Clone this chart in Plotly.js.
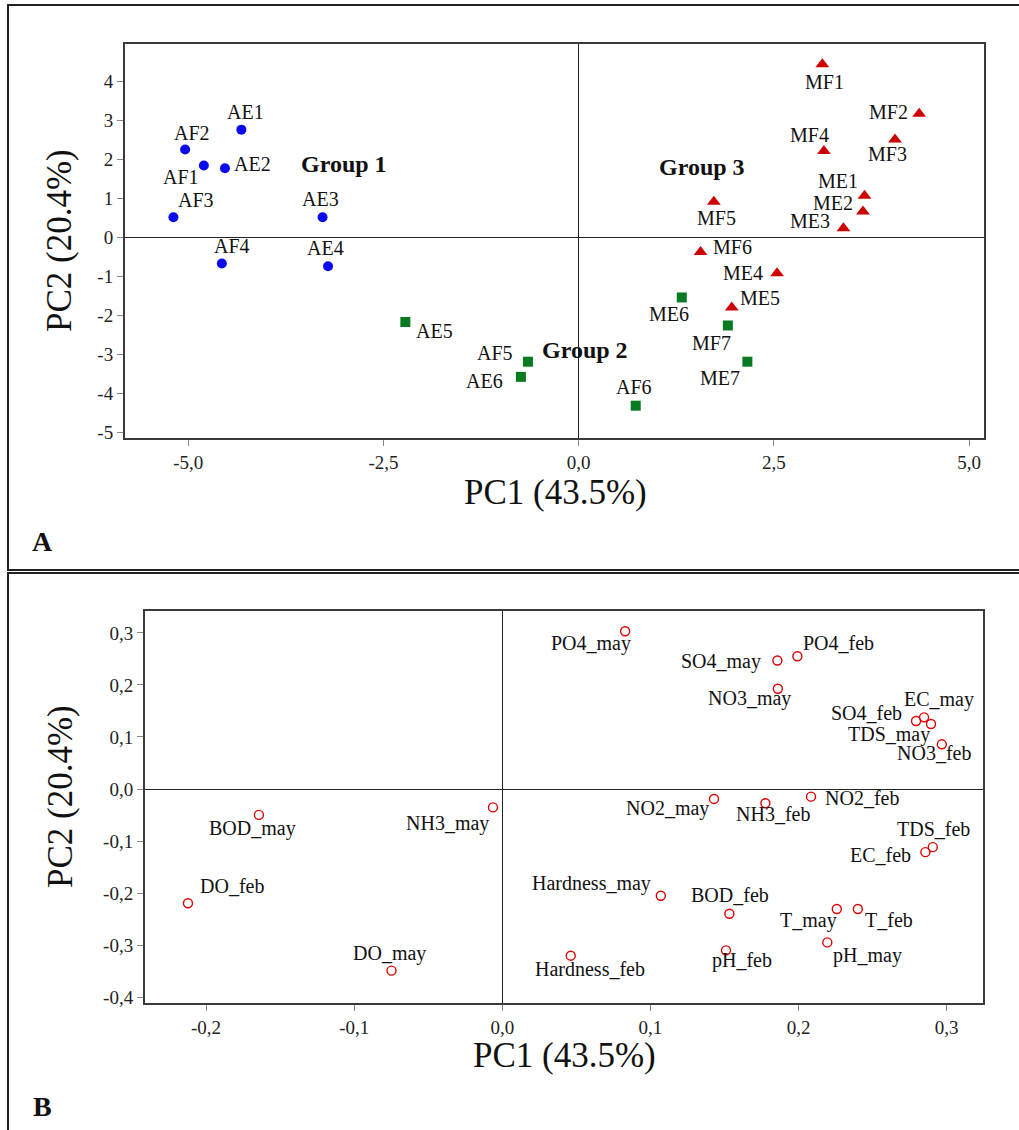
<!DOCTYPE html>
<html>
<head>
<meta charset="utf-8">
<script src="https://cdn.plot.ly/plotly-3.0.1.min.js"></script>
<style>html,body{margin:0;padding:0;background:#fff;}#chart{width:1019px;height:1130px;}</style>
</head>
<body>
<div id="chart"></div>
<script>
// ---------- Panel A: PCA scores ----------
const group1Names = ['AE1','AF2','AF1','AE2','AF3','AE3','AF4','AE4'];
const group1PC1 = [-4.32,-5.04,-4.80,-4.53,-5.19,-3.28,-4.57,-3.21];
const group1PC2 = [2.77,2.26,1.85,1.78,0.52,0.52,-0.67,-0.74];

const group2Names = ['AE5','AF5','AE6','AF6','ME6','MF7','ME7'];
const group2PC1 = [-2.22,-0.65,-0.74,0.73,1.32,1.91,2.16];
const group2PC2 = [-2.17,-3.19,-3.58,-4.32,-1.54,-2.26,-3.19];

const group3Names = ['MF1','MF2','MF3','MF4','ME1','ME2','ME3','MF5','MF6','ME4','ME5'];
const group3PC1 = [3.12,4.36,4.05,3.14,3.66,3.64,3.39,1.73,1.56,2.54,1.96];
const group3PC2 = [4.45,3.18,2.52,2.22,1.07,0.67,0.24,0.92,-0.37,-0.92,-1.80];

const groupTitles = ['Group 1','Group 2','Group 3'];
const groupTitlePC1 = [-3.00,0.08,1.58];
const groupTitlePC2 = [1.90,-2.90,1.81];

const scoreTickX = [-5,-2.5,0,2.5,5];
const scoreTickXText = ['-5,0','-2,5','0,0','2,5','5,0'];
const scoreTickY = [-5,-4,-3,-2,-1,0,1,2,3,4];
const scoreTickYText = ['-5','-4','-3','-2','-1','0','1','2','3','4'];

// ---------- Panel B: PCA loadings ----------
const varNames = ['PO4_may','SO4_may','PO4_feb','NO3_may','SO4_feb','EC_may','TDS_may','NO3_feb',
  'NO2_may','NH3_feb','NO2_feb','TDS_feb','EC_feb','Hardness_may','BOD_feb','T_may','T_feb',
  'pH_may','pH_feb','Hardness_feb','BOD_may','NH3_may','DO_feb','DO_may'];
const varPC1 = [0.0829,0.1857,0.1992,0.1860,0.2793,0.2847,0.2894,0.2967,
  0.1429,0.1776,0.2084,0.2906,0.2856,0.1070,0.1533,0.2258,0.2400,
  0.2194,0.1510,0.0462,-0.1643,-0.0063,-0.2122,-0.0748];
const varPC2 = [0.303,0.247,0.255,0.1926,0.1306,0.1377,0.1249,0.0859,
  -0.0190,-0.0272,-0.0146,-0.1116,-0.1212,-0.2050,-0.2396,-0.2305,-0.2305,
  -0.2946,-0.3099,-0.3201,-0.0497,-0.0353,-0.2194,-0.3489];

const loadTickX = [-0.2,-0.1,0,0.1,0.2,0.3];
const loadTickXText = ['-0,2','-0,1','0,0','0,1','0,2','0,3'];
const loadTickY = [-0.4,-0.3,-0.2,-0.1,0,0.1,0.2,0.3];
const loadTickYText = ['-0,4','-0,3','-0,2','-0,1','0,0','0,1','0,2','0,3'];

const axisTitleX = 'PC1 (43.5%)';
const axisTitleY = 'PC2 (20.4%)';
const panelLetters = ['A','B'];

// ---------- styling / layout (label offsets in pixels: [dx, dy down]) ----------
const labelOffsetA = {
  AE1:[4,-18], AF2:[7,-17], AF1:[-23,12], AE2:[28,-4], AF3:[23,-17], AE3:[-2,-18], AF4:[10,-18], AE4:[-3,-18],
  AE5:[29,9], AF5:[-33,-9], AE6:[-36,4], AF6:[-2,-19], ME6:[-13,17], MF7:[-16,18], ME7:[-27,16],
  MF1:[2,18], MF2:[-31,-2], MF3:[-7,15], MF4:[-14,-16], ME1:[-27,-15], ME2:[-30,-8], ME3:[-33,-7],
  MF5:[3,16], MF6:[32,-5], ME4:[-34,0], ME5:[28,-10]
};
const labelOffsetB = {
  PO4_may:[-34,12], SO4_may:[-56,1], PO4_feb:[41,-13], NO3_may:[-28,10], SO4_feb:[-50,-8], EC_may:[15,-18],
  TDS_may:[-42,10], NO3_feb:[-8,9], NO2_may:[-46,10], NH3_feb:[8,11], NO2_feb:[51,1], TDS_feb:[1,-18],
  EC_feb:[-45,3], Hardness_may:[-69,-12], BOD_feb:[1,-19], T_may:[-28,11], T_feb:[31,11], pH_may:[40,13],
  pH_feb:[16,10], Hardness_feb:[19,13], BOD_may:[-6,14], NH3_may:[-45,16], DO_feb:[44,-17], DO_may:[-2,-17]
};

const W = 1019, H = 1130;
const px = v => v / W;
const py = v => 1 - v / H;
const SERIF = '"Liberation Serif", "Times New Roman", serif';
const TXT = '#111';

const traces = [
  {x: group1PC1, y: group1PC2, type:'scatter', mode:'markers', xaxis:'x', yaxis:'y',
   marker:{symbol:'circle', size:10, color:'#0a0af0'}, hoverinfo:'text', text:group1Names},
  {x: group2PC1, y: group2PC2, type:'scatter', mode:'markers', xaxis:'x', yaxis:'y',
   marker:{symbol:'square', size:10, color:'#077a22'}, hoverinfo:'text', text:group2Names},
  {x: group3PC1, y: group3PC2, type:'scatter', mode:'markers', xaxis:'x', yaxis:'y',
   marker:{symbol:'triangle-up', size:12, color:'#cc0000'}, hoverinfo:'text', text:group3Names},
  {x: varPC1, y: varPC2, type:'scatter', mode:'markers', xaxis:'x2', yaxis:'y2',
   marker:{symbol:'circle-open', size:9, color:'#dd0000', line:{width:1.4, color:'#dd0000'}},
   hoverinfo:'text', text:varNames}
];

const annotations = [];
function addLabels(names, xs, ys, offs, xr, yr, fs) {
  names.forEach((n, i) => {
    const o = offs[n] || [0, -15];
    annotations.push({x: xs[i], y: ys[i], xref: xr, yref: yr, text: n, showarrow: false,
      xanchor: 'center', yanchor: 'middle', xshift: o[0], yshift: -o[1],
      font: {family: SERIF, size: fs, color: TXT}});
  });
}
addLabels(group1Names, group1PC1, group1PC2, labelOffsetA, 'x', 'y', 20);
addLabels(group2Names, group2PC1, group2PC2, labelOffsetA, 'x', 'y', 20);
addLabels(group3Names, group3PC1, group3PC2, labelOffsetA, 'x', 'y', 20);
addLabels(varNames, varPC1, varPC2, labelOffsetB, 'x2', 'y2', 20);

groupTitles.forEach((t, i) => {
  annotations.push({x: groupTitlePC1[i], y: groupTitlePC2[i], xref:'x', yref:'y', text:'<b>'+t+'</b>',
    showarrow:false, xanchor:'center', yanchor:'middle', font:{family:SERIF, size:24, color:TXT}});
});

// axis titles and panel letters
[[555,493],[564,1055]].forEach(p => annotations.push({x:px(p[0]), y:py(p[1]), xref:'paper', yref:'paper',
  text:axisTitleX, showarrow:false, xanchor:'center', yanchor:'middle', font:{family:SERIF, size:35, color:TXT}}));
[[60,241],[60,797]].forEach(p => annotations.push({x:px(p[0]), y:py(p[1]), xref:'paper', yref:'paper',
  text:axisTitleY, textangle:-90, showarrow:false, xanchor:'center', yanchor:'middle', font:{family:SERIF, size:35, color:TXT}}));
[[42,541],[42,1106]].forEach((p, i) => annotations.push({x:px(p[0]), y:py(p[1]), xref:'paper', yref:'paper',
  text:'<b>'+panelLetters[i]+'</b>', showarrow:false, xanchor:'center', yanchor:'middle', font:{family:SERIF, size:28, color:TXT}}));

const baseAxis = {
  showgrid:false, zeroline:true, zerolinecolor:'#222', zerolinewidth:1,
  showline:true, linecolor:'#3a3a3a', linewidth:2, mirror:true,
  ticks:'outside', ticklen:6, tickwidth:1, tickcolor:'#888',
  tickfont:{family:SERIF, size:19, color:'#222'}, fixedrange:true, tickmode:'array'
};

const layout = {
  width: W, height: H, margin:{l:0,r:0,t:0,b:0}, showlegend:false,
  paper_bgcolor:'#fff', plot_bgcolor:'#fff',
  xaxis: Object.assign({}, baseAxis, {domain:[px(125), px(984)], range:[-5.81,5.19], anchor:'y',
    tickvals:scoreTickX, ticktext:scoreTickXText}),
  yaxis: Object.assign({}, baseAxis, {domain:[py(438), py(44)], range:[-5.15,4.97], anchor:'x',
    tickvals:scoreTickY, ticktext:scoreTickYText}),
  xaxis2: Object.assign({}, baseAxis, {domain:[px(145), px(983)], range:[-0.2412,0.3245], anchor:'y2',
    tickvals:loadTickX, ticktext:loadTickXText}),
  yaxis2: Object.assign({}, baseAxis, {domain:[py(1003), py(611)], range:[-0.411,0.342], anchor:'x2',
    tickvals:loadTickY, ticktext:loadTickYText}),
  annotations: annotations,
  shapes: [
    {type:'rect', xref:'paper', yref:'paper', x0:px(8), x1:1.02, y0:py(570), y1:py(5), line:{color:'#222', width:2}},
    {type:'rect', xref:'paper', yref:'paper', x0:px(8), x1:1.02, y0:-0.02, y1:py(573), line:{color:'#222', width:2}}
  ]
};

Plotly.newPlot('chart', traces, layout, {displayModeBar:false, staticPlot:true});
</script>
</body>
</html>
